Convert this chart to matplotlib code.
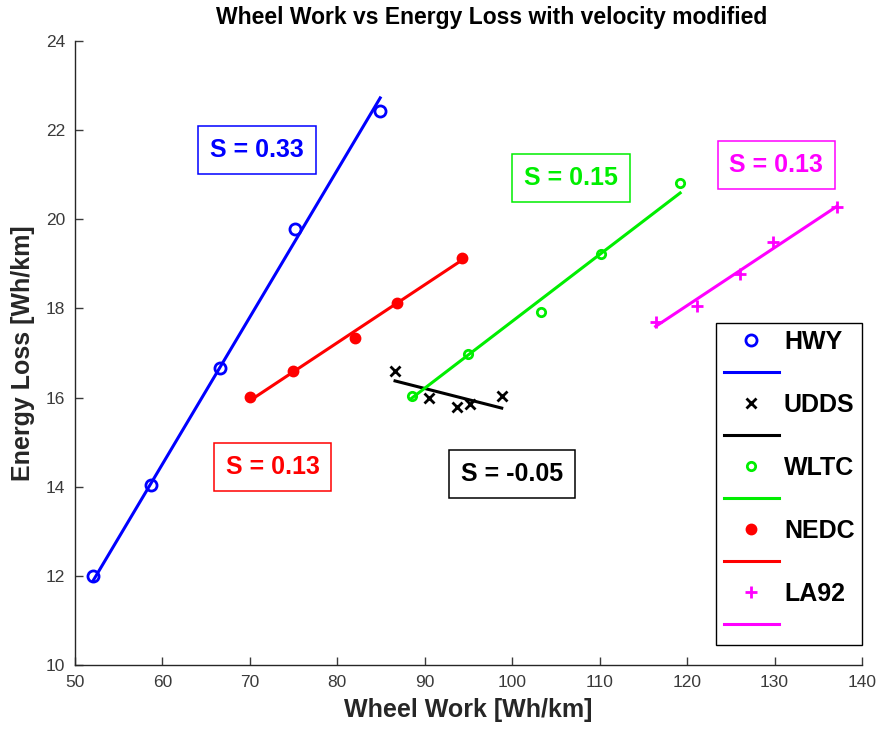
import numpy as np
import matplotlib
matplotlib.use("Agg")
import matplotlib.pyplot as plt

plt.rcParams['font.family'] = ['Liberation Sans', 'DejaVu Sans']

# ── cycle data: wheel work [Wh/km] vs energy loss [Wh/km] ──────────────────────
cycles = ["HWY", "UDDS", "WLTC", "NEDC", "LA92"]
hwy_x = [52.1, 58.7, 66.6, 75.2, 84.9]
hwy_y = [12.00, 14.04, 16.66, 19.78, 22.43]
udds_x = [86.6, 90.5, 93.7, 95.2, 98.8]
udds_y = [16.60, 15.99, 15.79, 15.86, 16.04]
wltc_x = [88.5, 94.9, 103.3, 110.2, 119.2]
wltc_y = [16.04, 16.98, 17.92, 19.22, 20.81]
nedc_x = [70.0, 74.9, 82.0, 86.8, 94.3]
nedc_y = [16.01, 16.60, 17.34, 18.12, 19.13]
la92_x = [116.4, 121.1, 126.1, 129.8, 137.1]
la92_y = [17.70, 18.05, 18.77, 19.49, 20.28]

# slope of each linear fit, as printed in the annotation boxes
slopes = [0.33, -0.05, 0.15, 0.13, 0.13]
# annotation box centres (data coords)
label_x = [70.8, 100.0, 106.7, 72.6, 130.2]
label_y = [21.55, 14.29, 20.93, 14.44, 21.22]

xs = [hwy_x, udds_x, wltc_x, nedc_x, la92_x]
ys = [hwy_y, udds_y, wltc_y, nedc_y, la92_y]
colors = ["#0000ff", "#000000", "#00ee00", "#ff0000", "#ff00ff"]
markers = ["o", "x", "o", "o", "+"]
msizes = [8, 6.5, 6, 6.5, 9]
filled = [False, False, False, True, False]

fig = plt.figure(figsize=(8.79, 7.33), dpi=100)
ax = fig.add_axes([0.0853, 0.0928, 0.8954, 0.8512])

handles, labels = [], []
for name, x, y, s, c, m, ms, f in zip(cycles, xs, ys, slopes, colors, markers, msizes, filled):
    x = np.asarray(x); y = np.asarray(y)
    pts, = ax.plot(x, y, linestyle="none", marker=m, markersize=ms,
                   markeredgewidth=2, markeredgecolor=c,
                   markerfacecolor=c if f else "none")
    # fit line through the centroid with the stated slope
    b = y.mean() - s * x.mean()
    xf = np.array([x.min(), x.max()])
    fit, = ax.plot(xf, s * xf + b, color=c, linewidth=2.2)
    handles += [pts, fit]
    labels += [name, " "]

for s, lx, ly, c in zip(slopes, label_x, label_y, colors):
    ax.text(lx, ly, f"S = {s:.2f}", color=c, fontsize=18, fontweight="bold",
            ha="center", va="center",
            bbox=dict(boxstyle="square,pad=0.47", facecolor="white",
                      edgecolor=c, linewidth=1.1))

ax.set_xlim(50, 140)
ax.set_ylim(10, 24)
ax.set_xticks(range(50, 141, 10))
ax.set_yticks(range(10, 25, 2))
ax.tick_params(direction="in", length=6, width=1, labelsize=12.5, colors="#3a3a3a",
               pad=7)
for side in ("top", "right"):
    ax.spines[side].set_visible(False)
for side in ("left", "bottom"):
    ax.spines[side].set_color("#262626")
    ax.spines[side].set_linewidth(1)

ax.set_xlabel("Wheel Work [Wh/km]", fontsize=18, fontweight="bold", color="#262626",
              labelpad=6)
ax.set_ylabel("Energy Loss [Wh/km]", fontsize=18, fontweight="bold", color="#262626",
              labelpad=8)
ax.set_title("Wheel Work vs Energy Loss with velocity modified", fontsize=16.5,
             fontweight="bold", pad=12, x=0.53)

leg = ax.legend(handles, labels, loc="lower right", bbox_to_anchor=(1.0, 0.032),
                borderaxespad=0, fancybox=False, framealpha=1, edgecolor="black",
                prop=dict(size=18, weight="bold"), handlelength=2.2,
                labelspacing=0.3, handletextpad=0.2, borderpad=0.3)
leg.get_frame().set_linewidth(1)

fig.savefig("out.png", dpi=100)
